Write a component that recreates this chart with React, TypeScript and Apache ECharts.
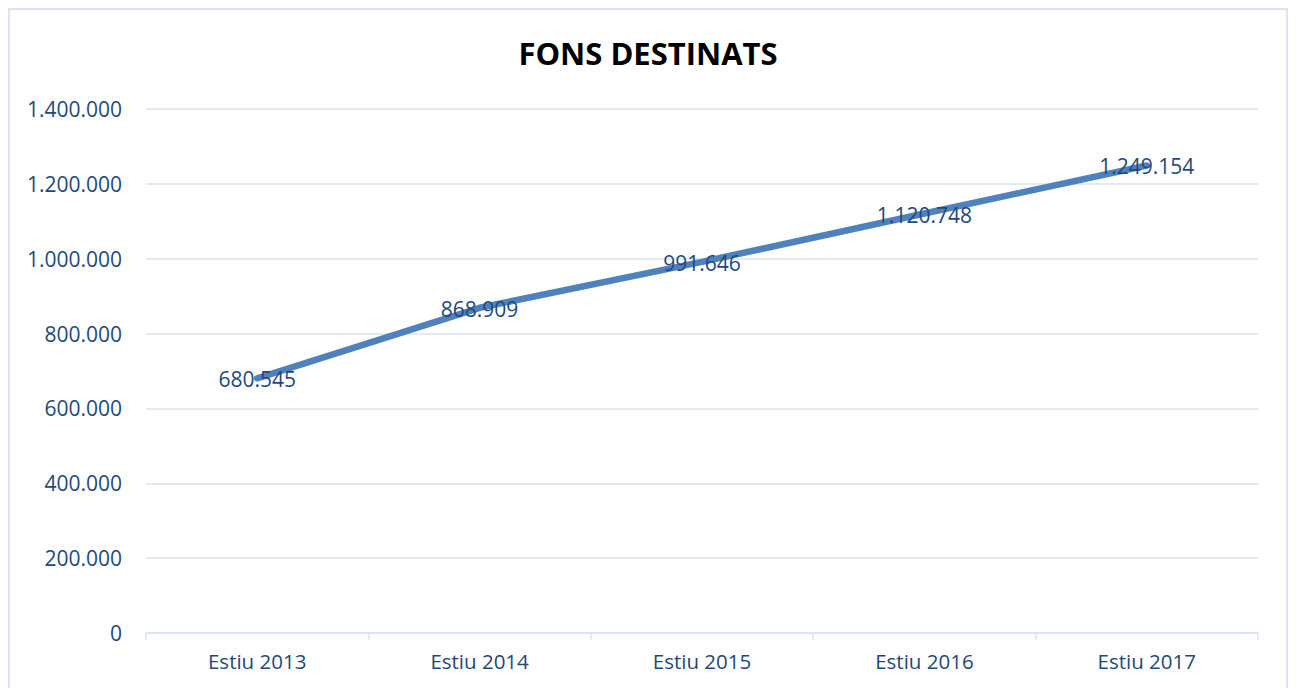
import React, { useEffect, useRef } from "react";
import * as echarts from "echarts";

const categories = ["Estiu 2013", "Estiu 2014", "Estiu 2015", "Estiu 2016", "Estiu 2017"];
const fons = [680545, 868909, 991646, 1120748, 1249154];
const yMin = 0;
const yMax = 1400000;
const yStep = 200000;

const fmt = (v: number) => String(Math.round(v)).replace(/\B(?=(\d{3})+(?!\d))/g, ".");

const TEXT = "#1f497d";
const GRID = "#d9e3f1";
const FONT = "'Open Sans', sans-serif";

export default function App() {
  const ref = useRef<HTMLDivElement>(null);
  useEffect(() => {
    if (!ref.current) return;
    document.body.style.overflow = "hidden";
    const chart = echarts.init(ref.current, undefined, { renderer: "svg" });
    chart.setOption({
      animation: false,
      backgroundColor: "#ffffff",
      title: {
        text: "FONS DESTINATS",
        left: "center",
        top: 22,
        textStyle: { fontFamily: FONT, fontSize: 31, fontWeight: "bold", color: "#000000" },
      },
      grid: { left: 136, right: 28, top: 99, height: 524, containLabel: false },
      xAxis: {
        type: "category",
        data: categories,
        boundaryGap: true,
        axisLine: { show: true, lineStyle: { color: GRID, width: 1.5 } },
        axisTick: { show: true, length: 7, lineStyle: { color: GRID, width: 1.5 } },
        axisLabel: { color: TEXT, fontFamily: FONT, fontSize: 20.5, margin: 17 },
        splitLine: { show: false },
      },
      yAxis: {
        type: "value",
        min: yMin,
        max: yMax,
        interval: yStep,
        axisLine: { show: false },
        axisTick: { show: false },
        axisLabel: { color: TEXT, fontFamily: FONT, fontSize: 21, margin: 24, formatter: (v: number) => fmt(v) },
        splitLine: { show: true, lineStyle: { color: GRID, width: 1.5 } },
      },
      series: [
        {
          type: "line",
          data: fons,
          symbol: "circle",
          symbolSize: 0.1,
          itemStyle: { color: "#4f81bd" },
          lineStyle: { color: "#4f81bd", width: 6.5, cap: "round" },
          label: {
            show: true,
            position: "inside",
            offset: [0, 1],
            color: TEXT,
            fontFamily: FONT,
            fontSize: 21,
            formatter: (p: any) => fmt(p.value),
          },
        },
      ],
    });
    return () => chart.dispose();
  }, []);
  return (
    <div
      ref={ref}
      style={{
        width: 1280,
        height: 690,
        boxSizing: "border-box",
        borderTop: `2px solid ${GRID}`,
        borderLeft: `2px solid ${GRID}`,
        borderRight: `2px solid ${GRID}`,
      }}
    />
  );
}
